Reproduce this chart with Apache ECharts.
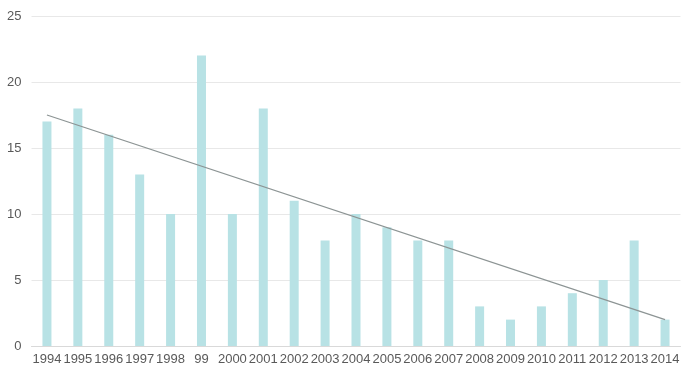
<!DOCTYPE html>
<html><head><meta charset="utf-8">
<script src="https://cdn.jsdelivr.net/npm/echarts@6/dist/echarts.min.js"></script>
<style>html,body{margin:0;padding:0;background:#fff}#c{width:690px;height:378px}</style>
</head><body><div id="c"></div>
<script>
var categories = ['1994','1995','1996','1997','1998','99','2000','2001','2002','2003','2004','2005','2006','2007','2008','2009','2010','2011','2012','2013','2014'];
var values = [17,18,16,13,10,22,10,18,11,8,10,9,8,8,3,2,3,4,5,8,2];
var trendStart = 17.5;
var trendEnd = 2.0;
var yTicks = [0,5,10,15,20,25];

var trend = categories.map(function(c,i){ return i===0 ? trendStart : (i===categories.length-1 ? trendEnd : null); });

var chart = echarts.init(document.getElementById('c'), null, {renderer:'canvas'});
chart.setOption({
  animation:false,
  grid:{left:31.5, right:9.5, top:16, bottom:32, containLabel:false},
  xAxis:{type:'category', data:categories,
    axisLine:{lineStyle:{color:'#d9d9d9'}}, axisTick:{show:false},
    axisLabel:{color:'#595959', fontSize:13, fontFamily:'Liberation Sans, Arial, sans-serif', margin:7, interval:0}},
  yAxis:{type:'value', min:yTicks[0], max:yTicks[yTicks.length-1], interval:5,
    axisLine:{show:false}, axisTick:{show:false},
    splitLine:{lineStyle:{color:'#e8e8e8'}},
    axisLabel:{color:'#595959', fontSize:13, fontFamily:'Liberation Sans, Arial, sans-serif', margin:10}},
  series:[
    {type:'bar', data:values, barWidth:9, itemStyle:{color:'#b8e2e5'}},
    {type:'line', data:trend, connectNulls:true, symbol:'none', lineStyle:{color:'#8c9494', width:1.2}}
  ]
});
</script></body></html>
